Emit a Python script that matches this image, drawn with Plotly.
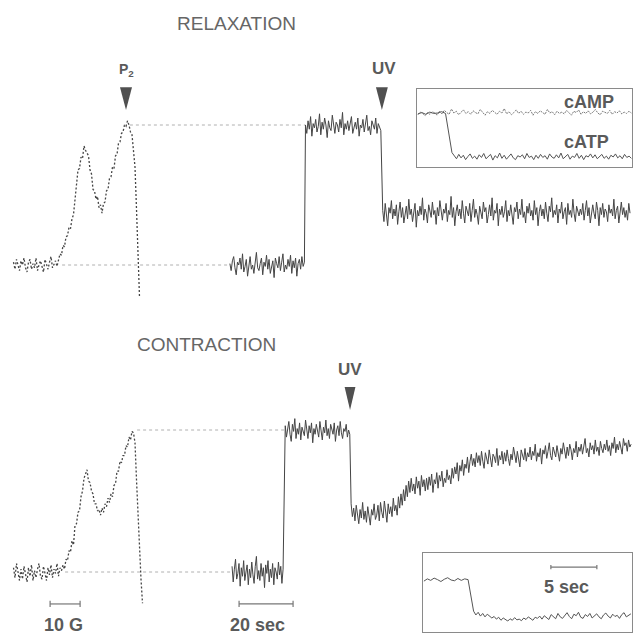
import numpy as np
import plotly.graph_objects as go

W, H = 633, 635

# ---------------- data ----------------
# Signal units: 0 = dark baseline, 100 = light-on plateau
# RELAXATION field sweep (gauss) -> signal
relax_field_start, relax_field_end = 4.5, 46.5
relax_field_sig = [2, -3, 4, -1, -4, 3, 0, 5, -2, -5, 2, 4, -3, 1, -2, 5, -4, 0, 3, -1, -5, 4, 1, -3, 2, 6, -2, 0, 3, -1, 4,
                   8, 7, 14, 13, 20, 21, 27, 26, 33, 36, 48, 54, 68, 69, 77, 76, 85, 82,
                   80, 78, 68, 65, 54, 53, 47, 49, 41, 43, 37,
                   44, 45, 53, 54, 62, 63, 70, 69, 78, 79, 87, 88, 94, 95, 100, 99, 103,
                   100, 95, 93, 83, 70, 40, 5, -23]

# CONTRACTION field sweep
contr_field_start, contr_field_end = 4.5, 47.5
contr_field_sig = [3, -4, 6, -2, -6, 2, -5, 4, -1, -7, 3, -3, 5, -6, 1, -4, 2, 6, -3, -5, 4, 0, -6, 3, -2, 5, -4, 2, -1, 6, -3, 3, 1,
                   5, 2, 9, 8, 15, 14, 22, 19, 33, 34, 42, 43, 53, 57, 66, 69,
                   72, 64, 63, 57, 55, 48, 48, 43, 44, 40,
                   45, 42, 48, 46, 52, 49, 55, 53, 61, 62, 71, 71, 78, 77, 82, 82, 89, 88, 95, 93, 99, 98,
                   91, 65, 40, 15, -5, -22]

# RELAXATION time trace (seconds), three segments: dark, light, after UV
relax_dark_t = (0.7, 28.3)
relax_dark = [1, -4, 3, 6, -2, -7, 2, 0, 5, -3, 8, -5, -1, 4, -8, 2, 6, -3, 0, -6, 3, 9, -2, -4, 1, 5, -7, 2, -1, 7,
              -3, 4, -6, 0, 3, -9, 5, 1, -2, 6, -4, 2, 8, -5, 0, -3, 4, -1, 7, -6, 3, -2, 5, -8, 1, 4, -3, 6, -1, 2]
relax_light_t = (28.7, 56.6)
relax_light = [100, 94, 103, 97, 106, 92, 101, 98, 104, 95, 99, 108, 93, 102, 97, 105, 100, 91, 103, 98,
               96, 107, 99, 94, 102, 100, 95, 104, 98, 109, 93, 101, 97, 103, 96, 100, 106, 94, 99, 102,
               97, 105, 92, 100, 98, 104, 95, 101, 107, 96, 99, 93, 103, 100, 97, 105, 94, 101, 98, 96]
relax_uv_t = (57.3, 148.9)
relax_uv = [39, 31, 44, 36, 28, 41, 37, 46, 33, 40, 35, 43, 29, 38, 45, 34, 41, 30, 37, 42,
            33, 47, 36, 40, 31, 38, 44, 27, 39, 35, 42, 36, 48, 32, 40, 37, 30, 43, 38, 34,
            45, 36, 39, 29, 41, 35, 46, 38, 32, 40, 37, 44, 31, 39, 36, 49, 34, 41, 28, 38,
            43, 35, 40, 33, 46, 37, 30, 42, 38, 35, 44, 31, 39, 47, 34, 40, 36, 29, 42, 37,
            33, 45, 38, 41, 30, 36, 43, 35, 48, 32, 39, 37, 44, 28, 40, 36, 42, 34, 38, 46,
            31, 39, 35, 43, 37, 29, 41, 38, 45, 33, 40, 36, 47, 34, 38, 30, 42, 37, 44, 35,
            39, 32, 46, 36, 41, 28, 38, 43, 35, 40, 33, 45, 37, 31, 42, 38, 48, 34, 39, 36,
            43, 30, 40, 37, 45, 33, 38, 41, 29, 44, 36, 39, 34, 47, 37, 31, 42, 38, 35, 40,
            36, 44, 32, 39, 46, 35, 41, 30, 38, 43, 37, 33, 45, 39, 28, 41, 36, 44, 34, 40,
            38, 31, 43, 37, 40, 35, 47, 33, 39, 42, 30, 38, 45, 36, 41, 34, 39, 32, 44, 37]

# CONTRACTION time trace
contr_dark_t = (1.5, 20.4)
contr_dark = [4, -7, 2, 9, -5, -1, 6, -10, 3, -3, 8, -6, 0, 5, -9, 2, -4, 7, -2, -8, 4, 11, -5, 1, -6, 6, -3, 3, -11, 5,
              -1, 8, -7, 2, -4, 6, -9, 3, 0, -5, 7, -2, 4, -8, 2]
contr_light_t = (21.2, 45.1)
contr_light = [103, 95, 100, 106, 97, 92, 104, 99, 108, 94, 101, 97, 105, 93, 102, 99, 96, 107, 100, 94,
               103, 98, 105, 91, 101, 97, 104, 99, 95, 106, 100, 93, 102, 98, 107, 96, 101, 94, 104, 99,
               97, 105, 92, 100, 103, 96, 106, 98, 94, 101, 99, 104, 95, 100, 97]
contr_uv_t = (45.6, 149.3)
contr_uv = [48, 39, 45, 36, 47, 41, 34, 44, 38, 49, 37, 43, 35, 46, 39, 33, 44, 40, 48, 37,
            40, 47, 36, 49, 42, 38, 50, 44, 35, 48, 41, 46, 39, 52, 43, 47, 40, 53, 45, 55,
            47, 58, 50, 61, 53, 64, 56, 66, 57, 62, 55, 67, 59, 64, 54, 68, 60, 65, 57, 66,
            58, 67, 61, 69, 56, 65, 62, 70, 59, 68, 64, 71, 60, 66, 63, 72, 65, 68, 62, 73,
            66, 74, 69, 77, 64, 75, 71, 79, 68, 76, 73, 81, 70, 78, 83, 75, 80, 74, 84, 77,
            82, 75, 85, 78, 73, 84, 80, 76, 86, 79, 74, 83, 81, 77, 87, 75, 82, 79, 85, 76,
            84, 78, 86, 80, 75, 83, 79, 88, 81, 77, 85, 80, 74, 86, 82, 79, 87, 78, 84, 81,
            88, 79, 85, 82, 90, 78, 84, 81, 87, 76, 86, 83, 89, 80, 85, 91, 82, 79, 88, 84,
            81, 89, 84, 78, 87, 83, 91, 85, 80, 88, 82, 90, 86, 79, 87, 84, 92, 81, 88, 85,
            90, 83, 88, 94, 84, 87, 81, 91, 86, 89, 83, 93, 85, 88, 82, 92, 87, 84, 90, 86,
            93, 85, 89, 82, 91, 87, 95, 84, 90, 86, 92, 88, 83, 94, 89, 91, 85, 93, 88, 90]

# Inset (relaxation): cAMP and cATP, seconds; 100 = pre-flash level, 0 = post-flash cATP level
camp_t = (0.1, 23.3)
camp = [96, 102, 99, 94, 101, 97, 103, 100, 95, 104, 98, 106, 101, 97, 109, 100, 104, 96, 102, 107, 99, 103, 97, 105, 101, 98, 108, 100, 95, 103,
        99, 106, 102, 97, 104, 100, 110, 98, 103, 96, 101, 107, 99, 104, 97, 102, 100, 106, 95, 103, 99, 105, 101, 97, 108, 100, 103, 96, 104, 99,
        102, 98, 106, 100, 95, 104, 101, 107, 97, 103, 99, 105, 98, 102, 108, 100, 96, 104, 101, 99, 106, 97, 103, 100, 105, 98, 102, 99, 104, 100]
catp_pre_t = (0.1, 3.1)
catp_pre = [98, 101, 97, 102, 99, 100, 103, 99]
catp_post_t = (3.8, 23.3)
catp_post = [10, 3, -4, 6, -2, 4, -6, 1, 7, -3, 2, -5, 5, -1, 8, -4, 0, 6, -7, 3, -2, 9, -3, 4, -5, 1, 7, -2, -6, 3,
             0, 5, -4, 8, -1, 2, -6, 4, -3, 6, -1, 3, -5, 7, 0, -3, 5, -2, 9, -4, 1, 6, -5, 2, -1, 8, -3, 4, -6, 3,
             0, 7, -2, 5, -4, 1, 6, -3, 2, -5, 4, 0, 7, -2, 3, -4, 6, -1, 2, -3]

# Inset (contraction)
ins2_pre_t = (0.1, 4.9)
ins2_pre = [97, 103, 99, 105, 101, 96, 102, 106, 100, 98, 104, 99, 103, 101]
ins2_post_t = (5.5, 22.6)
ins2_post = [18, 8, 15, 5, 12, 3, 10, 6, 0, 4, -3, 2, -6, 0, -4, -8, -2, -6, 1, -5, -3, -7, 0, -4, 3, -2, -6, 2, -1, 5,
             -3, 6, 0, -4, 9, 2, -2, 12, 3, -1, 8, 14, 4, -2, 10, 6, 15, 2, -1, 9, 4, 12, 0, 6, 11, 3, -2, 8, 13, 5,
             0, 10, 4, 7, -1, 9, 14, 3, 6, 11]

# Events and scale bars
p2_field = 42.0
relax_uv_time = 57.0
contr_uv_time = 45.2
relax_ref_field = (20.7, 43.3)   # field where baseline / plateau guides start
contr_ref_field = (21.7, 45.7)
bar_field = (16.7, 26.7)         # 10 G
bar_time = (4.1, 24.1)           # 20 sec
bar_inset = (13.9, 18.9)         # 5 sec

# ---------------- layout geometry ----------------
def pdom(a, b):  # pixel span (top->bottom) to paper domain
    return [1 - b / H, 1 - a / H]

FIELD_DOM = [0, 150 / W]; FIELD_RNG = [0, 50]
TIME_DOM = [228 / W, 1.0]; TIME_RNG = [0, 150]
TOP_YDOM = pdom(55, 315); TOP_YRNG = [-35.714, 150]
BOT_YDOM = pdom(355, 635); BOT_YRNG = [-44.366, 152.817]
IN1_XDOM = [417 / W, 632 / W]; IN1_XRNG = [0, 23.37]
IN1_YDOM = pdom(89, 167); IN1_YRNG = [-22.73, 154.55]
IN2_XDOM = [423 / W, 632 / W]; IN2_XRNG = [0, 22.72]
IN2_YDOM = pdom(553, 632); IN2_YRNG = [-36.84, 171.05]


def to_paper(v, dom, rng):
    return dom[0] + (v - rng[0]) / (rng[1] - rng[0]) * (dom[1] - dom[0])


TRACE = '#454545'
TEXT = '#5a5a5a'
FONT = 'Liberation Sans, Arial, sans-serif'

fig = go.Figure()


def seg(vals, span):
    return np.linspace(span[0], span[1], len(vals))


def add_line(x, y, xa, ya, color=TRACE, width=1.0, dash=None):
    fig.add_trace(go.Scatter(x=x, y=y, xaxis=xa, yaxis=ya, mode='lines',
                             line=dict(color=color, width=width, dash=dash),
                             hoverinfo='skip', showlegend=False))


# field sweeps
add_line(np.linspace(relax_field_start, relax_field_end, len(relax_field_sig)), relax_field_sig,
         'x', 'y', width=1.3, dash='2px,2px')
add_line(np.linspace(contr_field_start, contr_field_end, len(contr_field_sig)), contr_field_sig,
         'x3', 'y2', width=1.3, dash='2px,2px')

# time traces
rt = np.concatenate([seg(relax_dark, relax_dark_t), seg(relax_light, relax_light_t), seg(relax_uv, relax_uv_t)])
rv = relax_dark + relax_light + relax_uv
add_line(rt, rv, 'x2', 'y')
ct = np.concatenate([seg(contr_dark, contr_dark_t), seg(contr_light, contr_light_t), seg(contr_uv, contr_uv_t)])
cv = contr_dark + contr_light + contr_uv
add_line(ct, cv, 'x4', 'y2')

# inset 1
add_line(seg(camp, camp_t), camp, 'x5', 'y3', color='#7a7a7a', width=1.0, dash='2px,1px')
add_line(np.concatenate([seg(catp_pre, catp_pre_t), seg(catp_post, catp_post_t)]), catp_pre + catp_post,
         'x5', 'y3', color='#555', width=1.0)
# inset 2
add_line(np.concatenate([seg(ins2_pre, ins2_pre_t), seg(ins2_post, ins2_post_t)]), ins2_pre + ins2_post,
         'x6', 'y4', color='#555', width=1.0)

# scale bars
def add_bar(span, yv, tick, xa, ya):
    xs = [span[0], span[0], None, span[0], span[1], None, span[1], span[1]]
    ys = [yv - tick, yv + tick, None, yv, yv, None, yv - tick, yv + tick]
    add_line(xs, ys, xa, ya, color='#777', width=1.2)


add_bar(bar_field, -22.5, 2.2, 'x3', 'y2')
add_bar(bar_time, -22.5, 2.2, 'x4', 'y2')
add_bar(bar_inset, 134, 5.5, 'x6', 'y4')

shapes = []
# dotted guide lines
GUIDE = dict(color='#b0b0b0', width=1, dash='dot')
shapes.append(dict(type='line', xref='paper', yref='y', layer='below',
                   x0=to_paper(relax_ref_field[0], FIELD_DOM, FIELD_RNG), x1=to_paper(relax_dark_t[0], TIME_DOM, TIME_RNG),
                   y0=0, y1=0, line=GUIDE))
shapes.append(dict(type='line', xref='paper', yref='y', layer='below',
                   x0=to_paper(relax_ref_field[1], FIELD_DOM, FIELD_RNG), x1=to_paper(relax_light_t[0], TIME_DOM, TIME_RNG),
                   y0=100, y1=100, line=GUIDE))
shapes.append(dict(type='line', xref='paper', yref='y2', layer='below',
                   x0=to_paper(contr_ref_field[0], FIELD_DOM, FIELD_RNG), x1=to_paper(contr_dark_t[0], TIME_DOM, TIME_RNG),
                   y0=0, y1=0, line=GUIDE))
shapes.append(dict(type='line', xref='paper', yref='y2', layer='below',
                   x0=to_paper(contr_ref_field[1], FIELD_DOM, FIELD_RNG), x1=to_paper(contr_light_t[0], TIME_DOM, TIME_RNG),
                   y0=100, y1=100, line=GUIDE))


# arrowheads (narrow downward triangles)
def tri(xc, half, ytop, ybot, xref, yref):
    return dict(type='path', xref=xref, yref=yref,
                path=f'M {xc-half},{ytop} L {xc+half},{ytop} L {xc},{ybot} Z',
                fillcolor='#505050', line=dict(width=0))


shapes.append(tri(p2_field, 2.0, 127, 110.7, 'x', 'y'))
shapes.append(tri(relax_uv_time, 2.2, 127, 110.7, 'x2', 'y'))
shapes.append(tri(contr_uv_time, 2.0, 130.3, 114.1, 'x4', 'y2'))

ann = []


def txt(text, x, y, xref, yref, size, bold=False, color=TEXT):
    ann.append(dict(text=f'<b>{text}</b>' if bold else text, x=x, y=y, xref=xref, yref=yref,
                    showarrow=False, xanchor='center', yanchor='middle',
                    font=dict(family=FONT, size=size, color=color)))


txt('RELAXATION', 236.5 / W, 1 - 23.5 / H, 'paper', 'paper', 19, color='#666')
txt('CONTRACTION', 206.5 / W, 1 - 344.5 / H, 'paper', 'paper', 19, color='#666')
txt('P<sub>2</sub>', p2_field, 139.5, 'x', 'y', 14, bold=True)
txt('UV', relax_uv_time + 0.6, 140.5, 'x2', 'y', 17, bold=True)
txt('UV', contr_uv_time, 142.5, 'x4', 'y2', 17, bold=True)
txt('cAMP', 18.65, 125, 'x5', 'y3', 18, bold=True)
txt('cATP', 18.4, 34, 'x5', 'y3', 18, bold=True)
txt('10 G', sum(bar_field) / 2 - 0.6, -37.0, 'x3', 'y2', 18, bold=True)
txt('20 sec', sum(bar_time) / 2 - 3.0, -37.0, 'x4', 'y2', 18, bold=True)
txt('5 sec', 15.6, 81.6, 'x6', 'y4', 18, bold=True)

hidden = dict(visible=False, fixedrange=True)
box = dict(visible=True, showline=True, mirror=True, linecolor='#8a8a8a', linewidth=1,
           showticklabels=False, ticks='', showgrid=False, zeroline=False, fixedrange=True)

fig.update_layout(
    width=W, height=H, margin=dict(l=0, r=0, t=0, b=0), autosize=False,
    paper_bgcolor='white', plot_bgcolor='rgba(0,0,0,0)',
    showlegend=False, shapes=shapes, annotations=ann,
    xaxis=dict(hidden, domain=FIELD_DOM, range=FIELD_RNG, anchor='y'),
    xaxis2=dict(hidden, domain=TIME_DOM, range=TIME_RNG, anchor='y'),
    xaxis3=dict(hidden, domain=FIELD_DOM, range=FIELD_RNG, anchor='y2'),
    xaxis4=dict(hidden, domain=TIME_DOM, range=TIME_RNG, anchor='y2'),
    xaxis5=dict(box, domain=IN1_XDOM, range=IN1_XRNG, anchor='y3'),
    xaxis6=dict(box, domain=IN2_XDOM, range=IN2_XRNG, anchor='y4'),
    yaxis=dict(hidden, domain=TOP_YDOM, range=TOP_YRNG, anchor='x'),
    yaxis2=dict(hidden, domain=BOT_YDOM, range=BOT_YRNG, anchor='x3'),
    yaxis3=dict(box, domain=IN1_YDOM, range=IN1_YRNG, anchor='x5'),
    yaxis4=dict(box, domain=IN2_YDOM, range=IN2_YRNG, anchor='x6'),
)

fig.write_html('out.html', config={'displayModeBar': False},
               post_script="document.body.style.margin='0';document.body.style.overflow='hidden';")
